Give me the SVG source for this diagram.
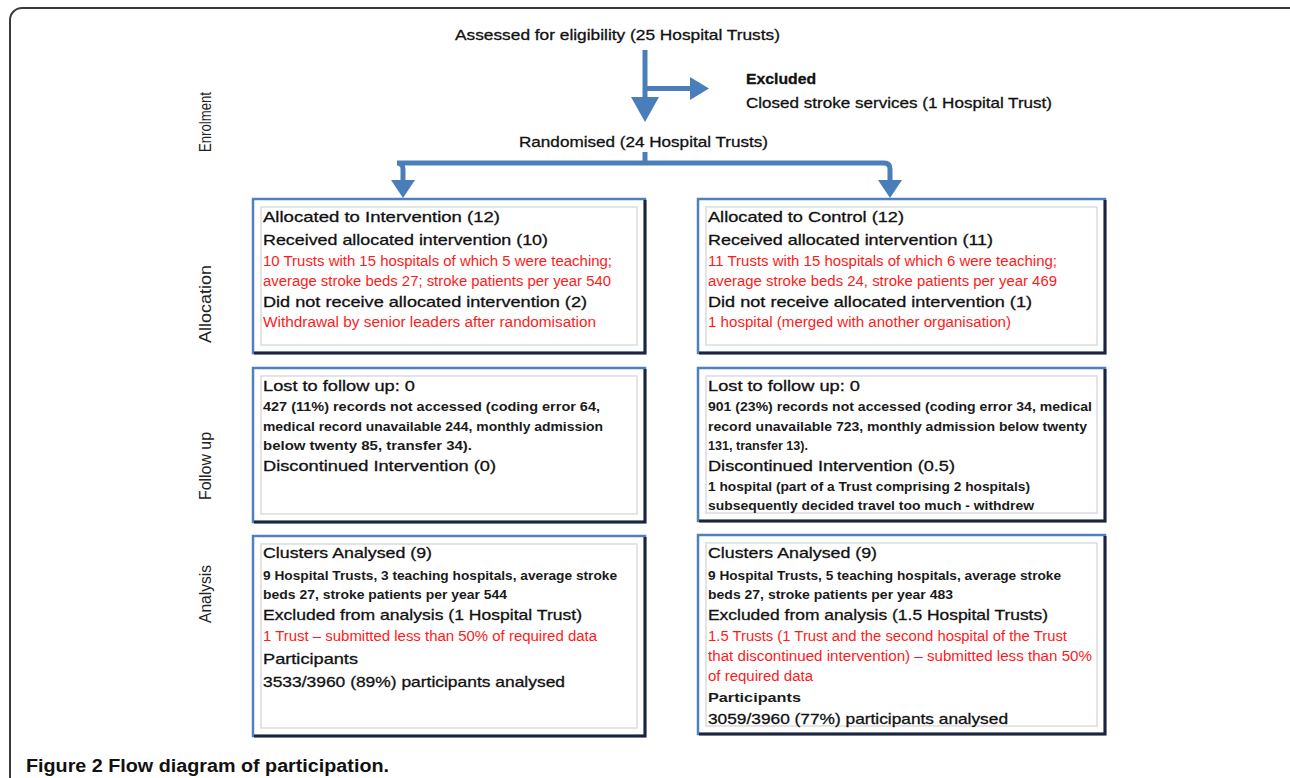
<svg xmlns="http://www.w3.org/2000/svg" width="1290" height="778" viewBox="0 0 1290 778">
<style>
text{font-family:"Liberation Sans",Arial,sans-serif;fill:#111;}
.t{font-size:15px;stroke:#111;stroke-width:0.3;}
.s{font-size:13.5px;font-weight:bold;fill:#1a1a1a;}
.r{font-size:14px;fill:#ff1a1a;}
.lab{font-size:16px;fill:#222;}
.outer{fill:#fff;stroke:#4f81bd;stroke-width:2.5;}
.dark{fill:none;stroke:#1b2438;stroke-width:3;}
.inner{fill:none;stroke:#dcdcdc;stroke-width:1.5;}
.arr{fill:#4a7ebb;}
.shaft{fill:none;stroke:#4a7ebb;stroke-width:5;}
</style>
<rect x="10" y="8" width="1295" height="800" rx="12" fill="#fff" stroke="#3a3a3a" stroke-width="2"/>

<g id="phase-labels">
<text class="lab" transform="translate(211,122) rotate(-90)" text-anchor="middle" textLength="60" lengthAdjust="spacingAndGlyphs">Enrolment</text>
<text class="lab" transform="translate(211,304) rotate(-90)" text-anchor="middle" textLength="78" lengthAdjust="spacingAndGlyphs">Allocation</text>
<text class="lab" transform="translate(211,466) rotate(-90)" text-anchor="middle" textLength="68" lengthAdjust="spacingAndGlyphs">Follow up</text>
<text class="lab" transform="translate(211,594) rotate(-90)" text-anchor="middle" textLength="58" lengthAdjust="spacingAndGlyphs">Analysis</text>
</g>

<g id="connectors">
<line class="shaft" x1="645" y1="50" x2="645" y2="100"/>
<polygon class="arr" points="631,97 659,97 645,122"/>
<line class="shaft" x1="645" y1="88.5" x2="692" y2="88.5"/>
<polygon class="arr" points="690,77 690,100 709,88.5"/>
<path class="shaft" d="M645,152 V163 M645,163 H397 Q403,163 403,169 V182 M645,163 H884 Q890,163 890,169 V182"/>
<polygon class="arr" points="391,180 415,180 403,198"/>
<polygon class="arr" points="878,180 902,180 890,198"/>
</g>

<g id="assessed">
<text class="t" x="455" y="40" textLength="325" lengthAdjust="spacingAndGlyphs">Assessed for eligibility (25 Hospital Trusts)</text>
</g>
<g id="excluded">
<text class="t" x="746" y="84" font-weight="bold" textLength="70" lengthAdjust="spacingAndGlyphs">Excluded</text>
<text class="t" x="746" y="108" textLength="306" lengthAdjust="spacingAndGlyphs">Closed stroke services (1 Hospital Trust)</text>
</g>
<g id="randomised">
<text class="t" x="519" y="147" textLength="249" lengthAdjust="spacingAndGlyphs">Randomised (24 Hospital Trusts)</text>
</g>

<g id="alloc-intervention">
<rect class="outer" x="253" y="199" width="392" height="154"/>
<path class="dark" d="M645,200 V353 H254"/>
<rect class="inner" x="261" y="207" width="376" height="138"/>
<text class="t" x="263" y="222" textLength="237" lengthAdjust="spacingAndGlyphs">Allocated to Intervention  (12)</text>
<text class="t" x="263" y="245" textLength="285" lengthAdjust="spacingAndGlyphs">Received allocated intervention (10)</text>
<text class="r" x="263" y="266" textLength="349" lengthAdjust="spacingAndGlyphs">10 Trusts with 15 hospitals of which 5 were teaching;</text>
<text class="r" x="263" y="286" textLength="348" lengthAdjust="spacingAndGlyphs">average stroke beds 27; stroke patients per year 540</text>
<text class="t" x="263" y="307" textLength="324" lengthAdjust="spacingAndGlyphs">Did not receive allocated intervention (2)</text>
<text class="r" x="263" y="327" textLength="333" lengthAdjust="spacingAndGlyphs">Withdrawal by senior leaders  after randomisation</text>
</g>

<g id="alloc-control">
<rect class="outer" x="698" y="199" width="407" height="154"/>
<path class="dark" d="M1105,200 V353 H699"/>
<rect class="inner" x="706" y="207" width="391" height="138"/>
<text class="t" x="708" y="222" textLength="196" lengthAdjust="spacingAndGlyphs">Allocated to Control  (12)</text>
<text class="t" x="708" y="245" textLength="285" lengthAdjust="spacingAndGlyphs">Received allocated intervention (11)</text>
<text class="r" x="708" y="266" textLength="349" lengthAdjust="spacingAndGlyphs">11 Trusts with 15 hospitals of which 6 were teaching;</text>
<text class="r" x="708" y="286" textLength="349" lengthAdjust="spacingAndGlyphs">average stroke beds 24,  stroke patients per year 469</text>
<text class="t" x="708" y="307" textLength="324" lengthAdjust="spacingAndGlyphs">Did not receive allocated intervention (1)</text>
<text class="r" x="708" y="327" textLength="303" lengthAdjust="spacingAndGlyphs">1 hospital (merged with another organisation)</text>
</g>

<g id="followup-intervention">
<rect class="outer" x="253" y="368" width="392" height="154"/>
<path class="dark" d="M645,369 V522 H254"/>
<rect class="inner" x="261" y="376" width="376" height="138"/>
<text class="t" x="263" y="391" textLength="152" lengthAdjust="spacingAndGlyphs">Lost to follow up: 0</text>
<text class="s" x="263" y="411" textLength="337" lengthAdjust="spacingAndGlyphs">427 (11%) records  not accessed (coding error 64,</text>
<text class="s" x="263" y="431" textLength="340" lengthAdjust="spacingAndGlyphs">medical record unavailable 244, monthly admission</text>
<text class="s" x="263" y="450" textLength="209" lengthAdjust="spacingAndGlyphs">below twenty 85, transfer 34).</text>
<text class="t" x="263" y="471" textLength="233" lengthAdjust="spacingAndGlyphs">Discontinued Intervention (0)</text>
</g>

<g id="followup-control">
<rect class="outer" x="698" y="368" width="407" height="153"/>
<path class="dark" d="M1105,369 V521 H699"/>
<rect class="inner" x="706" y="376" width="391" height="137"/>
<text class="t" x="708" y="391" textLength="152" lengthAdjust="spacingAndGlyphs">Lost to follow up: 0</text>
<text class="s" x="708" y="411" textLength="384" lengthAdjust="spacingAndGlyphs">901 (23%) records  not accessed (coding error 34, medical</text>
<text class="s" x="708" y="431" textLength="379" lengthAdjust="spacingAndGlyphs">record unavailable 723, monthly admission below twenty</text>
<text class="s" x="708" y="450" textLength="100" lengthAdjust="spacingAndGlyphs">131, transfer 13).</text>
<text class="t" x="708" y="471" textLength="247" lengthAdjust="spacingAndGlyphs">Discontinued Intervention (0.5)</text>
<text class="s" x="708" y="491" textLength="322" lengthAdjust="spacingAndGlyphs">1 hospital (part of a Trust comprising 2 hospitals)</text>
<text class="s" x="708" y="510" textLength="326" lengthAdjust="spacingAndGlyphs">subsequently decided travel too much - withdrew</text>
</g>

<g id="analysis-intervention">
<rect class="outer" x="253" y="536" width="392" height="200"/>
<path class="dark" d="M645,537 V736 H254"/>
<rect class="inner" x="261" y="544" width="376" height="184"/>
<text class="t" x="263" y="558" textLength="169" lengthAdjust="spacingAndGlyphs">Clusters  Analysed (9)</text>
<text class="s" x="263" y="580" textLength="354" lengthAdjust="spacingAndGlyphs">9 Hospital Trusts, 3 teaching hospitals, average stroke</text>
<text class="s" x="263" y="599" textLength="244" lengthAdjust="spacingAndGlyphs">beds 27, stroke patients per year 544</text>
<text class="t" x="263" y="620" textLength="319" lengthAdjust="spacingAndGlyphs">Excluded from analysis (1 Hospital Trust)</text>
<text class="r" x="263" y="641" textLength="334" lengthAdjust="spacingAndGlyphs">1 Trust – submitted less than 50% of required data</text>
<text class="t" x="263" y="664" textLength="95" lengthAdjust="spacingAndGlyphs">Participants</text>
<text class="t" x="263" y="687" textLength="302" lengthAdjust="spacingAndGlyphs">3533/3960 (89%) participants analysed</text>
</g>

<g id="analysis-control">
<rect class="outer" x="698" y="535" width="407" height="199"/>
<path class="dark" d="M1105,536 V734 H699"/>
<rect class="inner" x="706" y="543" width="391" height="183"/>
<text class="t" x="708" y="558" textLength="169" lengthAdjust="spacingAndGlyphs">Clusters  Analysed (9)</text>
<text class="s" x="708" y="580" textLength="353" lengthAdjust="spacingAndGlyphs">9 Hospital Trusts, 5 teaching hospitals, average stroke</text>
<text class="s" x="708" y="599" textLength="245" lengthAdjust="spacingAndGlyphs">beds 27, stroke patients per year 483</text>
<text class="t" x="708" y="620" textLength="340" lengthAdjust="spacingAndGlyphs">Excluded from analysis (1.5 Hospital Trusts)</text>
<text class="r" x="708" y="641" textLength="359" lengthAdjust="spacingAndGlyphs">1.5 Trusts (1 Trust and the second hospital of the Trust</text>
<text class="r" x="708" y="661" textLength="384" lengthAdjust="spacingAndGlyphs">that discontinued intervention) – submitted less than 50%</text>
<text class="r" x="708" y="681" textLength="105" lengthAdjust="spacingAndGlyphs">of required data</text>
<text class="s" x="708" y="702" textLength="93" lengthAdjust="spacingAndGlyphs">Participants</text>
<text class="t" x="708" y="724" textLength="300" lengthAdjust="spacingAndGlyphs">3059/3960 (77%) participants analysed</text>
</g>

<g id="caption">
<text x="26" y="772" font-size="18" font-weight="bold" fill="#231f20" textLength="363" lengthAdjust="spacingAndGlyphs">Figure 2 Flow diagram of participation.</text>
</g>
</svg>
